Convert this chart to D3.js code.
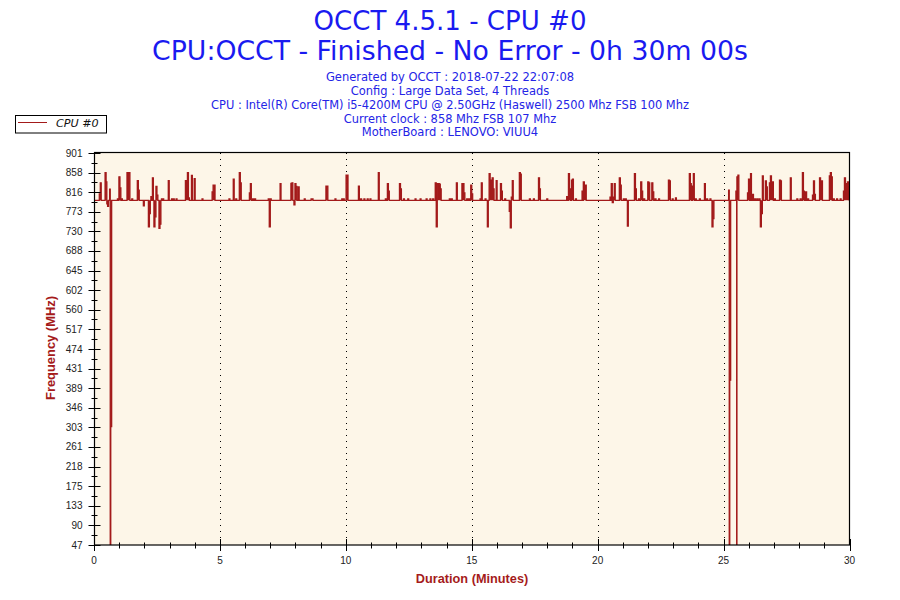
<!DOCTYPE html>
<html><head><meta charset="utf-8">
<script src="https://cdn.jsdelivr.net/npm/d3@7"></script>
<style>html,body{margin:0;padding:0;background:#fff;}svg{display:block;}</style>
</head><body>
<svg id="chart" width="900" height="600"></svg>
<script>
// ---------------- data ----------------
const titleLines = ["OCCT 4.5.1 - CPU #0", "CPU:OCCT - Finished - No Error - 0h 30m 00s"];
const infoLines = [
  "Generated by OCCT : 2018-07-22 22:07:08",
  "Config : Large Data Set, 4 Threads",
  "CPU : Intel(R) Core(TM) i5-4200M CPU @ 2.50GHz (Haswell) 2500 Mhz FSB 100 Mhz",
  "Current clock : 858 Mhz FSB 107 Mhz",
  "MotherBoard : LENOVO: VIUU4"
];
const seriesName = "CPU #0";
const yTickValues = [47,90,133,175,218,261,303,346,389,431,474,517,560,602,645,688,730,773,816,858,901];
const xMajorTicks = [0,5,10,15,20,25,30];
const xMinorTicks = [0,1,2,3,4,5,6,7,8,9,10,11,12,13,14,15,16,17,18,19,20,21,22,23,24,25,26,27,28,29,30];
const gridMinutes = [5,10,15,20,25];
const baseMHz = 798;
// readings that leave the 798 MHz baseline: [minute, MHz]
const spikeMinutes = [
0.21,0.25,0.44,0.48,0.51,0.54,0.62,0.645,0.665,0.93,0.99,1.03,1.09,1.31,1.35,1.39,1.5,1.72,1.76,1.96,
2.16,2.20,2.26,2.32,2.38,2.42,2.46,2.50,2.58,2.62,2.68,2.73,2.95,3.08,3.15,3.26,3.63,3.67,3.71,3.75,
3.87,3.98,4.29,4.69,4.73,4.77,5.36,5.53,5.63,5.77,5.81,6.17,6.21,6.30,6.38,6.92,6.96,7.00,7.39,7.82,
7.86,7.94,7.98,8.02,8.11,8.35,8.62,8.66,9.21,9.25,9.57,9.84,9.90,10.01,10.05,10.50,10.59,10.72,10.85,10.96,
11.29,11.57,11.65,11.69,12.13,12.17,12.29,12.46,12.75,12.95,13.19,13.34,13.45,13.55,13.59,13.63,13.67,13.71,13.75,14.11,
14.19,14.39,14.61,14.65,14.69,14.80,14.88,14.96,15.00,15.33,15.38,15.53,15.62,15.69,15.73,15.77,15.81,15.85,15.97,16.14,
16.18,16.31,16.49,16.53,16.57,16.61,16.89,16.93,17.29,17.45,17.65,17.69,17.98,18.77,18.84,18.88,18.96,19.00,19.12,19.38,
19.43,19.47,19.51,20.49,20.54,20.58,20.62,20.66,20.86,20.90,21.02,21.10,21.18,21.46,21.50,21.62,21.71,21.75,21.83,21.99,
22.03,22.15,22.19,22.28,22.42,22.81,22.85,22.96,23.09,23.64,23.68,23.76,23.80,23.88,24.04,24.24,24.33,24.46,24.54,24.58,
25.20,25.225,25.245,25.49,25.52,25.53,25.57,25.95,25.99,26.07,26.15,26.23,26.32,26.41,26.46,26.50,26.54,26.66,26.70,26.82,
26.86,26.90,26.94,27.02,27.22,27.26,27.65,27.91,28.04,28.13,28.17,28.26,28.34,28.53,28.57,28.61,28.81,28.85,28.89,29.20,
29.24,29.28,29.36,29.49,29.63,29.76,29.80,29.84,29.88,29.92,29.96
];
const spikeMHz = [
812,836,858,838,790,785,822,47,305,801,849,825,801,858,858,858,801,841,820,786,
740,769,806,847,740,762,828,809,737,746,801,801,841,801,801,801,841,838,858,803,
852,845,801,816,831,831,801,844,801,858,836,814,834,801,801,801,740,801,834,835,
836,788,834,828,827,801,801,801,829,829,801,801,801,853,853,829,801,801,801,801,
858,801,834,818,834,823,801,801,801,801,801,801,801,836,740,834,834,833,823,801,
801,836,834,834,814,801,801,831,812,801,836,801,740,856,842,842,847,823,841,834,
818,801,774,738,805,841,858,855,801,801,847,823,801,806,856,823,842,844,801,818,
838,805,831,805,834,793,805,834,847,831,801,801,742,856,823,801,838,818,801,838,
836,836,816,801,801,842,840,801,803,856,834,829,856,801,801,834,801,801,740,758,
820,47,406,818,47,849,853,814,844,856,811,801,801,801,740,769,851,840,827,836,
851,803,838,801,842,840,847,801,801,858,818,816,801,809,840,811,847,840,840,851,
858,849,801,801,801,818,847,834,814,838,831
];

// ---------------- layout ----------------
const svg = d3.select("#chart");
const plot = {left: 94, right: 849.5, top: 153, bottom: 545};
const x = d3.scaleLinear().domain([0, 30]).range([plot.left, plot.right]);
const y = d3.scaleLinear().domain([47, 901]).range([plot.bottom, plot.top]);

function fit(sel, target) {
  const w = sel.node().getComputedTextLength();
  const fs = parseFloat(sel.attr("font-size"));
  sel.attr("font-size", (fs * target / w).toFixed(2));
  return sel;
}

// titles
const blue = "#1a1af0";
fit(svg.append("text").attr("x", 450).attr("y", 29.5).attr("text-anchor", "middle")
  .attr("font-family", "DejaVu Sans").attr("font-size", 22).attr("fill", blue).text(titleLines[0]), 273);
fit(svg.append("text").attr("x", 450).attr("y", 59.5).attr("text-anchor", "middle")
  .attr("font-family", "DejaVu Sans").attr("font-size", 22).attr("fill", blue).text(titleLines[1]), 596);
const infoY = [81, 94.7, 108.5, 122.5, 135.7];
const infoW = [248.6, 198.6, 478.6, 212.6, 176.6];
infoLines.forEach((t, i) => {
  fit(svg.append("text").attr("x", 450).attr("y", infoY[i]).attr("text-anchor", "middle")
    .attr("font-family", "DejaVu Sans").attr("font-size", 11).attr("fill", "#2424e6").text(t), infoW[i]);
});

// legend
svg.append("rect").attr("x", 15.5).attr("y", 115.5).attr("width", 91).attr("height", 17.5)
  .attr("fill", "#fff").attr("stroke", "#000").attr("stroke-width", 1);
svg.append("line").attr("x1", 18).attr("x2", 47).attr("y1", 122.5).attr("y2", 122.5)
  .attr("stroke", "#a31a1a").attr("stroke-width", 1);
fit(svg.append("text").attr("x", 56).attr("y", 126.5).attr("font-family", "DejaVu Sans")
  .attr("font-style", "italic").attr("font-size", 11).attr("fill", "#111").text(seriesName), 42.7);

// plot background
svg.append("rect").attr("x", plot.left).attr("y", plot.top)
  .attr("width", plot.right - plot.left).attr("height", plot.bottom - plot.top)
  .attr("fill", "#fdf6e8");

// vertical dotted grid
svg.append("g").selectAll("line").data(gridMinutes).join("line")
  .attr("x1", d => Math.round(x(d)) + 0.5).attr("x2", d => Math.round(x(d)) + 0.5)
  .attr("y1", plot.top).attr("y2", plot.bottom)
  .attr("stroke", "#000").attr("stroke-width", 1).attr("stroke-dasharray", "1,5");

// series (each reading held for one sample width, as a step line)
const pts = [[0, baseMHz]];
const hold = 0.036;
spikeMinutes.forEach((t, i) => {
  pts.push([t, spikeMHz[i]]);
  const next = i < spikeMinutes.length - 1 ? spikeMinutes[i + 1] : 99;
  if (next - t > hold + 0.005) pts.push([t + hold, baseMHz]);
});
pts.push([30, baseMHz]);

const lineColor = "#a31a1a";
svg.append("clipPath").attr("id", "clip").append("rect")
  .attr("x", plot.left).attr("y", plot.top)
  .attr("width", plot.right - plot.left).attr("height", plot.bottom - plot.top);
// dense sampling in the original fills each excursion solidly
svg.append("path").datum(pts)
  .attr("clip-path", "url(#clip)")
  .attr("fill", lineColor).attr("stroke", "none")
  .attr("d", d3.area().curve(d3.curveStepAfter).x(d => x(d[0])).y0(y(baseMHz)).y1(d => y(d[1])));
svg.append("path").datum(pts)
  .attr("clip-path", "url(#clip)")
  .attr("fill", "none").attr("stroke", lineColor).attr("stroke-width", 1.3)
  .attr("d", d3.line().curve(d3.curveStepAfter).x(d => x(d[0])).y(d => y(d[1])));

// frame
svg.append("rect").attr("x", plot.left + 0.5).attr("y", plot.top - 0.5)
  .attr("width", plot.right - plot.left - 0.5).attr("height", plot.bottom - plot.top + 0.5)
  .attr("fill", "none").attr("stroke", "#000").attr("stroke-width", 1.2);

// y axis ticks
const yAx = svg.append("g");
const yMinor = d3.pairs(yTickValues).map(p => (p[0] + p[1]) / 2);
yAx.selectAll("line.maj").data(yTickValues).join("line").attr("class", "maj")
  .attr("x1", 88.5).attr("x2", 100.5)
  .attr("y1", d => Math.round(y(d)) + 0.5).attr("y2", d => Math.round(y(d)) + 0.5)
  .attr("stroke", "#000");
yAx.selectAll("line.min").data(yMinor).join("line").attr("class", "min")
  .attr("x1", 91.5).attr("x2", 97.5)
  .attr("y1", d => Math.round(y(d)) + 0.5).attr("y2", d => Math.round(y(d)) + 0.5)
  .attr("stroke", "#000");
yAx.selectAll("text").data(yTickValues).join("text")
  .attr("x", 82.5).attr("y", d => y(d)).attr("dy", "0.35em").attr("text-anchor", "end")
  .attr("font-family", "Liberation Sans").attr("font-size", 10).attr("fill", "#222")
  .text(d => d);

// x axis ticks
const xAx = svg.append("g");
xAx.selectAll("line.min").data(xMinorTicks).join("line").attr("class", "min")
  .attr("x1", d => Math.round(x(d)) + 0.5).attr("x2", d => Math.round(x(d)) + 0.5)
  .attr("y1", 542.5).attr("y2", 548.5).attr("stroke", "#000");
xAx.selectAll("line.maj").data(xMajorTicks).join("line").attr("class", "maj")
  .attr("x1", d => Math.round(x(d)) + 0.5).attr("x2", d => Math.round(x(d)) + 0.5)
  .attr("y1", 539).attr("y2", 551).attr("stroke", "#000");
xAx.selectAll("text").data(xMajorTicks).join("text")
  .attr("x", d => x(d)).attr("y", 563.5).attr("text-anchor", "middle")
  .attr("font-family", "Liberation Sans").attr("font-size", 10).attr("fill", "#222")
  .text(d => d);

// axis titles
const red = "#a51b1b";
fit(svg.append("text").attr("x", 472).attr("y", 583.3).attr("text-anchor", "middle")
  .attr("font-family", "Liberation Sans").attr("font-weight", "bold").attr("font-size", 12)
  .attr("fill", red).text("Duration (Minutes)"), 112.5);
fit(svg.append("text").attr("transform", "translate(55,348) rotate(-90)").attr("text-anchor", "middle")
  .attr("font-family", "Liberation Sans").attr("font-weight", "bold").attr("font-size", 12)
  .attr("fill", red).text("Frequency (MHz)"), 104);
</script>
</body></html>
